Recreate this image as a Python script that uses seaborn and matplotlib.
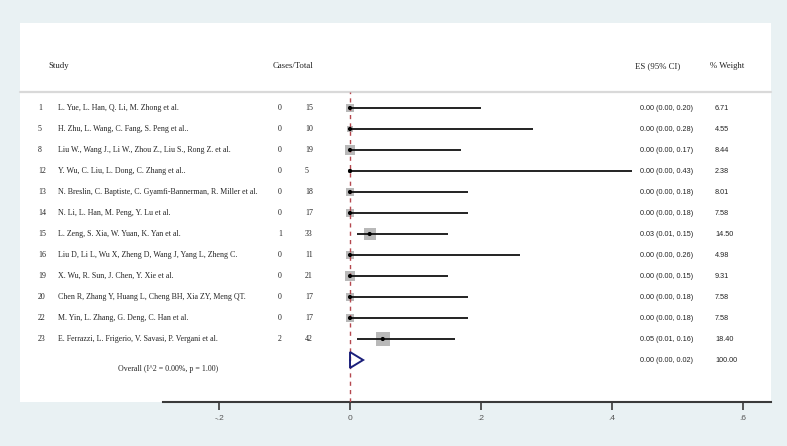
import numpy as np
import pandas as pd
import matplotlib
matplotlib.use("Agg")
import matplotlib.pyplot as plt
import seaborn as sns
from matplotlib.transforms import blended_transform_factory
from matplotlib.patches import Rectangle
from matplotlib.lines import Line2D

# ---------------- data ----------------
study_ids = ["1", "5", "8", "12", "13", "14", "15", "16", "19", "20", "22", "23"]
authors = [
    "L. Yue, L. Han, Q. Li, M. Zhong et al.",
    "H. Zhu, L. Wang, C. Fang, S. Peng et al..",
    "Liu W., Wang J., Li W., Zhou Z., Liu S., Rong Z. et al.",
    "Y. Wu, C. Liu, L. Dong, C. Zhang et al..",
    "N. Breslin, C. Baptiste, C. Gyamfi-Bannerman, R. Miller et al.",
    "N. Li, L. Han, M. Peng, Y. Lu et al.",
    "L. Zeng, S. Xia, W. Yuan, K. Yan et al.",
    "Liu D, Li L, Wu X, Zheng D, Wang J, Yang L, Zheng C.",
    "X. Wu, R. Sun, J. Chen, Y. Xie et al.",
    "Chen R, Zhang Y, Huang L, Cheng BH, Xia ZY, Meng QT.",
    "M. Yin, L. Zhang, G. Deng, C. Han et al.",
    "E. Ferrazzi, L. Frigerio, V. Savasi, P. Vergani et al.",
]
cases = [0, 0, 0, 0, 0, 0, 1, 0, 0, 0, 0, 2]
totals = [15, 10, 19, 5, 18, 17, 33, 11, 21, 17, 17, 42]
es = [0.00, 0.00, 0.00, 0.00, 0.00, 0.00, 0.03, 0.00, 0.00, 0.00, 0.00, 0.05]
ci_low = [0.00, 0.00, 0.00, 0.00, 0.00, 0.00, 0.01, 0.00, 0.00, 0.00, 0.00, 0.01]
ci_high = [0.20, 0.28, 0.17, 0.43, 0.18, 0.18, 0.15, 0.26, 0.15, 0.18, 0.18, 0.16]
weights = [6.71, 4.55, 8.44, 2.38, 8.01, 7.58, 14.50, 4.98, 9.31, 7.58, 7.58, 18.40]
overall_es, overall_low, overall_high, overall_weight = 0.00, 0.00, 0.02, 100.00
overall_label = "Overall (I^2 = 0.00%, p = 1.00)"
headers = ["Study", "Cases/Total", "ES (95% CI)", "% Weight"]
xticks = [-0.2, 0.0, 0.2, 0.4, 0.6]
xtick_labels = ["-.2", "0", ".2", ".4", ".6"]

# ---------------- style ----------------
sns.set_style("white")
SERIF = ["Liberation Serif", "DejaVu Serif"]
SANS = ["Liberation Sans", "DejaVu Sans"]
plt.rcParams["font.family"] = SANS
BG = "#e9f1f3"
HEAD_FS = 6.3
NAME_FS = 5.7
NUM_FS = 5.2
TXT = "#222222"

W, H = 787, 446
fig = plt.figure(figsize=(W / 100, H / 100), dpi=100, facecolor=BG)


def fx(px):
    return px / W


def fy(py):
    return 1 - py / H


# white panel (behind everything)
fig.patches.append(Rectangle((fx(20), fy(402)), fx(771) - fx(20), fy(23) - fy(402),
                             transform=fig.transFigure, facecolor="white",
                             edgecolor="none", zorder=-10))

ax = fig.add_axes([fx(163), fy(402), fx(771) - fx(163), fy(92) - fy(402)])
ax.set_zorder(1)
ax.patch.set_alpha(0)

n = len(study_ids)
df = pd.DataFrame({"row": np.arange(n), "es": es, "lo": ci_low, "hi": ci_high, "weight": weights})

wmin, wmax = min(weights), max(weights)
k = 5.2
sns.scatterplot(data=df, x="es", y="row", size="weight", sizes=(k * wmin, k * wmax),
                size_norm=(wmin, wmax), marker="s", color="#b9b9b9", edgecolor="none",
                linewidth=0, legend=False, ax=ax, zorder=2)
ax.hlines(df["row"], df["lo"], df["hi"], color="#1a1a1a", lw=1.35, zorder=3)
ax.axvline(0, color="#b5484f", lw=1.0, ls=(0, (3, 3)), zorder=3.5)
sns.scatterplot(data=df, x="es", y="row", marker="o", s=9, color="black",
                edgecolor="none", linewidth=0, legend=False, ax=ax, zorder=4)

# overall diamond
oy = n
hh = 0.38
ax.plot([overall_low, overall_es, overall_high, overall_es, overall_low],
        [oy, oy - hh, oy, oy + hh, oy], color="#1b1f7a", lw=1.4, zorder=5,
        solid_joinstyle="miter")

ax.set_xlim(-0.2855, 0.6427)
ax.set_ylim(14.0, -0.762)
ax.set_xlabel("")
ax.set_ylabel("")
ax.set_yticks([])
ax.set_xticks(xticks, xtick_labels)
for s in ["top", "left", "right"]:
    ax.spines[s].set_visible(False)
ax.spines["bottom"].set_color("#3a3a3a")
ax.spines["bottom"].set_linewidth(1.5)
ax.tick_params(axis="x", bottom=True, direction="out", length=6, width=1.2, color="#3a3a3a",
               labelsize=6, labelcolor="#555555", pad=3)

# header line and header text
fig.add_artist(Line2D([fx(20), fx(771)], [fy(92), fy(92)], transform=fig.transFigure,
                      color="#d9d9d9", lw=1.6, zorder=-5))
hy = fy(66)
for label, px in zip(headers, [48, 273, 635, 710]):
    fig.text(fx(px), hy, label, fontsize=HEAD_FS, family=SERIF, color=TXT,
             va="center", ha="left")

trans = blended_transform_factory(fig.transFigure, ax.transData)
for i in range(n):
    ax.text(fx(38), i, study_ids[i], transform=trans, fontsize=NAME_FS, family=SERIF,
            va="center", ha="left", color=TXT, clip_on=False)
    ax.text(fx(58), i, authors[i], transform=trans, fontsize=NAME_FS, family=SERIF,
            va="center", ha="left", color=TXT, clip_on=False)
    ax.text(fx(278), i, str(cases[i]), transform=trans, fontsize=NAME_FS, family=SERIF,
            va="center", ha="left", color=TXT, clip_on=False)
    ax.text(fx(305), i, str(totals[i]), transform=trans, fontsize=NAME_FS, family=SERIF,
            va="center", ha="left", color=TXT, clip_on=False)
    ax.text(fx(640), i, f"{es[i]:.2f} ({ci_low[i]:.2f}, {ci_high[i]:.2f})", transform=trans,
            fontsize=NUM_FS, family=SANS, va="center", ha="left", color=TXT, clip_on=False)
    ax.text(fx(715), i, f"{weights[i]:.2f}", transform=trans,
            fontsize=NUM_FS, family=SANS, va="center", ha="left", color=TXT, clip_on=False)

ax.text(fx(118), oy + 0.43, overall_label, transform=trans, fontsize=NAME_FS, family=SERIF,
        va="center", ha="left", color=TXT, clip_on=False)
ax.text(fx(640), oy, f"{overall_es:.2f} ({overall_low:.2f}, {overall_high:.2f})", transform=trans,
        fontsize=NUM_FS, family=SANS, va="center", ha="left", color=TXT, clip_on=False)
ax.text(fx(715), oy, f"{overall_weight:.2f}", transform=trans,
        fontsize=NUM_FS, family=SANS, va="center", ha="left", color=TXT, clip_on=False)

fig.savefig("out.png", dpi=100, facecolor=BG)
